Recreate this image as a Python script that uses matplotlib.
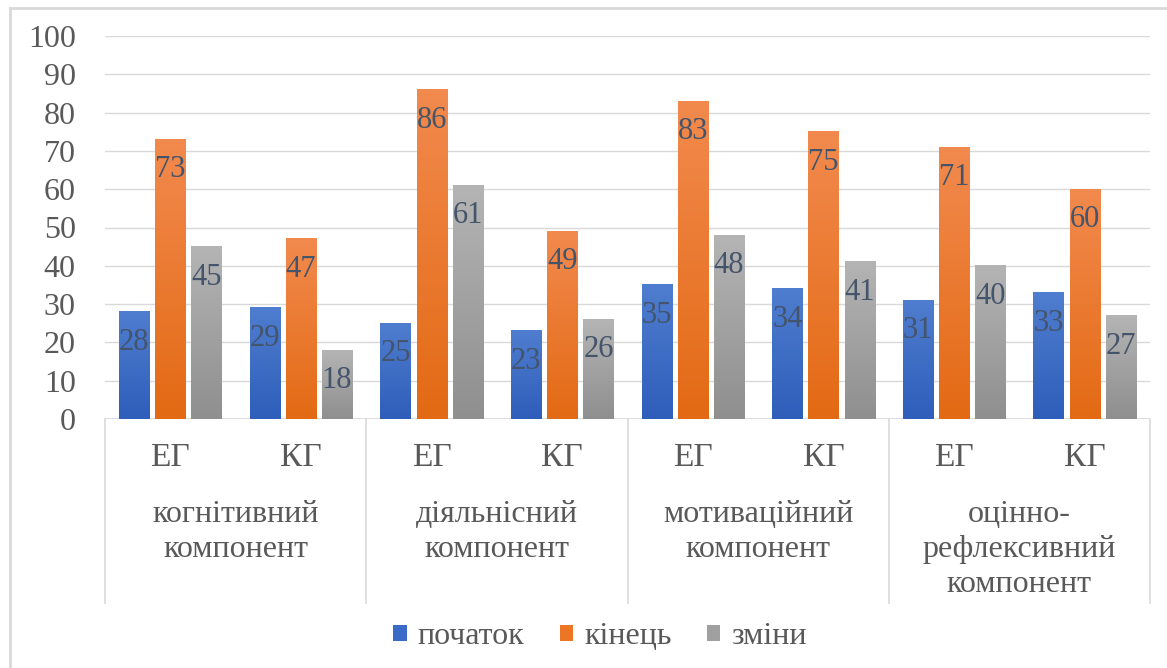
import matplotlib
matplotlib.use("Agg")
import matplotlib.pyplot as plt
import numpy as np
from matplotlib.colors import LinearSegmentedColormap
from matplotlib.patches import Patch
from matplotlib.lines import Line2D

plt.rcParams['font.family'] = ['Liberation Serif', 'DejaVu Serif']

# дані
components = ['когнітивний\nкомпонент', 'діяльнісний\nкомпонент',
              'мотиваційний\nкомпонент', 'оцінно-\nрефлексивний\nкомпонент']
groups = ['ЕГ', 'КГ']
series_names = ['початок', 'кінець', 'зміни']
pochatok = [28, 29, 25, 23, 35, 34, 31, 33]
kinets = [73, 47, 86, 49, 83, 75, 71, 60]
zminy = [45, 18, 61, 26, 48, 41, 40, 27]
yticks = [0, 10, 20, 30, 40, 50, 60, 70, 80, 90, 100]

# кольори: (низ, верх) градієнта
grad = [('#2E5EBA', '#4F7DCF'), ('#E36A14', '#F28A4E'), ('#8F8F8F', '#B4B4B4')]
solid = ['#3A6BC6', '#ED7624', '#A0A0A0']
txt_lbl = '#44546A'
txt_axis = '#595959'
grid_c = '#D9D9D9'

W, H = 1167, 668
fig = plt.figure(figsize=(W / 100, H / 100), dpi=100)
ax = fig.add_axes([105 / W, 1 - 419 / H, (1150 - 105) / W, (419 - 36) / H])

x = np.arange(len(pochatok))
bw = 0.23
step = 0.277
all_series = [pochatok, kinets, zminy]
for i, vals in enumerate(all_series):
    bars = ax.bar(x + (i - 1) * step, vals, bw, color='none', zorder=2)
    cmap = LinearSegmentedColormap.from_list('g%d' % i, grad[i])
    for b, v in zip(bars, vals):
        x0 = b.get_x()
        g = np.linspace(0, 1, 100).reshape(-1, 1)
        ax.imshow(g, extent=[x0, x0 + b.get_width(), 0, v], origin='lower',
                  cmap=cmap, aspect='auto', zorder=2)
        ax.annotate(str(v), (b.get_x() + b.get_width() / 2, v),
                    xytext=(0, -22), textcoords='offset points',
                    ha='center', va='center', fontsize=22, color=txt_lbl, zorder=3)

ax.set_xlim(-0.5, len(x) - 0.5)
ax.set_ylim(0, 100)
ax.set_yticks(yticks)
ax.set_yticklabels([str(t) for t in yticks], fontsize=23, color=txt_axis)
ax.tick_params(axis='y', length=0, pad=21)
ax.set_xticks([])
ax.grid(axis='y', color=grid_c, lw=1, zorder=0)
for s in ax.spines.values():
    s.set_visible(False)
ax.axhline(0, color=grid_c, lw=1.2, zorder=1)

# підписи категорій
tr = ax.get_xaxis_transform()
for i in range(len(x)):
    ax.text(x[i], -0.102, groups[i % 2], transform=tr, ha='center', va='center',
            fontsize=24, color=txt_axis)
for j, c in enumerate(components):
    ax.text(2 * j + 0.5, -0.212, c, transform=tr, ha='center', va='top',
            fontsize=23, color=txt_axis, linespacing=1.26)
for k in range(len(components) + 1):
    ax.plot([2 * k - 0.5, 2 * k - 0.5], [0, -0.48], transform=tr, color=grid_c,
            lw=1.2, clip_on=False)

handles = [Patch(facecolor=solid[i], edgecolor='none') for i in range(3)]
fig.legend(handles, series_names, loc='center', bbox_to_anchor=(600 / W, 1 - 637 / H),
           ncol=3, frameon=False, fontsize=23, handlelength=0.42, handleheight=0.42,
           handletextpad=0.35, columnspacing=1.1, labelcolor=txt_axis)

# рамка діаграми
fig.add_artist(Line2D([10 / W, 10 / W], [0, 1 - 8 / H], color=grid_c, lw=2))
fig.add_artist(Line2D([10 / W, 1], [1 - 8 / H, 1 - 8 / H], color=grid_c, lw=2))

fig.savefig('out.png', dpi=100)
